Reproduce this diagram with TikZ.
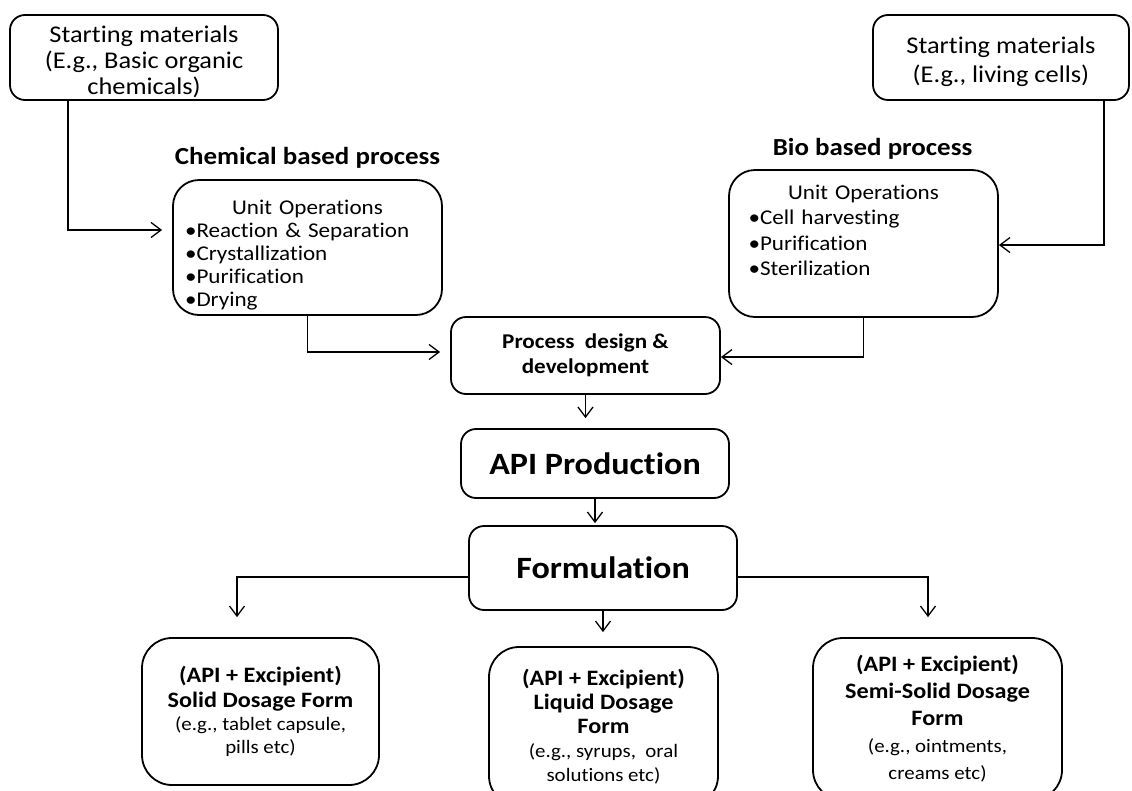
\documentclass[tikz,border=0pt]{standalone}
\usepackage{fontspec}
\setmainfont{Carlito}[FakeStretch=1.1, Ligatures=NoCommon]
\usetikzlibrary{arrows.meta,positioning}
\tikzset{
  flowbox/.style={draw, line width=1.8pt, rounded corners=15pt, align=center, inner sep=0pt},
  opsbox/.style={flowbox, rounded corners=26pt, align=left},
  dosebox/.style={flowbox, rounded corners=30pt, font=\dosehead},
  heading/.style={inner sep=0pt, font=\bfseries\fontsize{24.5}{28}\selectfont},
  flow/.style={-{Straight Barb[length=10pt,width=15pt]}, line width=1.3pt},
}
\newcommand{\smfont}{\fontsize{24}{26}\selectfont}
\newcommand{\opsfont}{\fontsize{21}{23}\selectfont}
\newcommand{\dosehead}{\bfseries\fontsize{22}{25}\selectfont}
\newcommand{\dosenote}{\mdseries\fontsize{19}{23}\selectfont}
\begin{document}
\begin{tikzpicture}[x=1pt, y=-1pt]
\useasboundingbox (0,0) rectangle (1132,790);
% --- starting materials ---
\node[flowbox, minimum width=268, minimum height=85, font=\smfont] (smchem) at (144,57.5)
  {\rule{0pt}{26pt}Starting materials\\(E.g., Basic organic\\chemicals)};
\node[flowbox, minimum width=256, minimum height=85, font=\fontsize{24}{29}\selectfont] (smbio) at (1001,57.5)
  {\rule{0pt}{26pt}Starting materials\\(E.g., living cells)};
% --- unit operations ---
\node[opsbox, minimum width=269, minimum height=135, text width=245, font=\opsfont] (chemops) at (307.5,247.5)
  {\makebox[\linewidth][c]{\rule{0pt}{30pt}Unit Operations}\\•Reaction \& Separation\\•Crystallization\\•Purification\\•Drying};
\node[opsbox, minimum width=269, minimum height=147, text width=230, font=\fontsize{21}{25.5}\selectfont] (bioops) at (863.5,243.5)
  {\makebox[\linewidth][c]{Unit Operations}\\•Cell harvesting\\•Purification\\•Sterilization\rule[-26pt]{0pt}{1pt}};
\node[heading, above=11pt of chemops] (chemhead) {Chemical based process};
\node[heading, above=10pt of bioops, xshift=9pt] (biohead) {Bio based process};
% --- main line ---
\node[flowbox, minimum width=269, minimum height=77, font=\bfseries\fontsize{21}{25}\selectfont] (procdev) at (585.5,355.5)
  {Process~ design \&\\development};
\node[flowbox, minimum width=268, minimum height=69, font=\bfseries\fontsize{31}{36}\selectfont] (apiprod) at (595,463.5)
  {API Production};
\node[flowbox, minimum width=268, minimum height=84, font=\bfseries\fontsize{31}{36}\selectfont] (formul) at (603,568)
  {Formulation};
% --- dosage forms ---
\node[dosebox, minimum width=237, minimum height=147] (solid) at (260.5,711.5)
  {(API + Excipient)\\Solid Dosage Form\\[-2pt]\dosenote (e.g., tablet capsule,\\[-2pt]\dosenote pills etc)};
\node[dosebox, minimum width=229, minimum height=159] (liquid) at (603.5,726.5)
  {(API + Excipient)\\[-1pt]Liquid Dosage\\[-1pt]Form\\[-1pt]\dosenote (e.g., syrups,~ oral\\[-1pt]\dosenote solutions etc)};
\node[dosebox, minimum width=249, minimum height=162, font=\bfseries\fontsize{22}{27}\selectfont] (semi) at (937.5,719)
  {(API + Excipient)\\Semi-Solid Dosage\\Form\\\dosenote (e.g., ointments,\\\dosenote creams etc)};
% --- connectors ---
\draw[flow] ([xshift=-76pt]smchem.south) |- ([xshift=-10pt, yshift=17.5pt]chemops.west);
\draw[flow] ([xshift=103pt]smbio.south) |- ([yshift=-1.5pt]bioops.east);
\draw[flow] (chemops.south) |- ([xshift=-10pt, yshift=3.5pt]procdev.west);
\draw[flow] (bioops.south) |- ([yshift=-1.5pt]procdev.east);
\draw[flow] (procdev.south) -- ([yshift=10pt]procdev.south |- apiprod.north);
\draw[flow] (apiprod.south) -- ([yshift=2pt]apiprod.south |- formul.north);
\draw[flow] ([yshift=-9pt]formul.west) -| ([xshift=-23.5pt, yshift=20pt]solid.north);
\draw[flow] (formul.south) -- ([yshift=14pt]formul.south |- liquid.north);
\draw[flow] ([yshift=-9pt]formul.east) -| ([xshift=-9.5pt, yshift=20pt]semi.north);
\end{tikzpicture}
\end{document}
